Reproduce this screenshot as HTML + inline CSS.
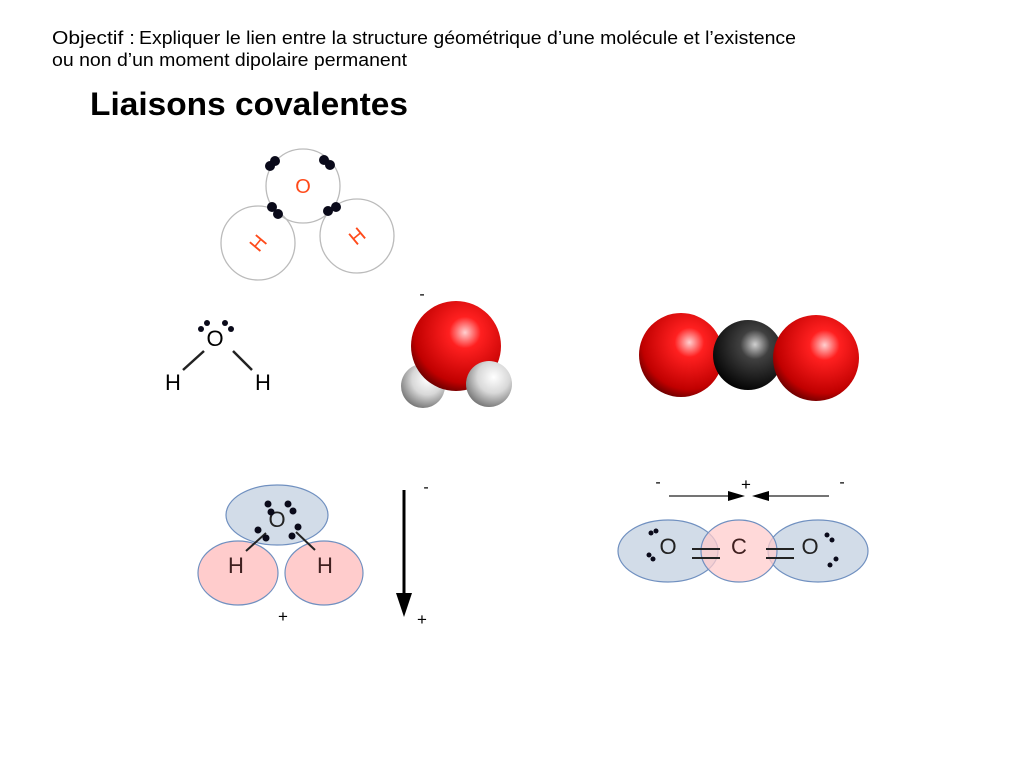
<!DOCTYPE html>
<html><head><meta charset="utf-8"><style>body{margin:0;background:#fff}svg{display:block}</style></head><body>
<svg width="1024" height="768" xmlns="http://www.w3.org/2000/svg" font-family="Liberation Sans, sans-serif">
<defs>
<radialGradient id="red" cx="0.6" cy="0.35" r="0.7"><stop offset="0" stop-color="#ffd0d0"/><stop offset="0.25" stop-color="#ff2020"/><stop offset="0.8" stop-color="#c00000"/><stop offset="1" stop-color="#600000"/></radialGradient>
<radialGradient id="wht" cx="0.6" cy="0.35" r="0.7"><stop offset="0" stop-color="#ffffff"/><stop offset="0.5" stop-color="#d8d8d8"/><stop offset="1" stop-color="#707070"/></radialGradient>
<radialGradient id="blk" cx="0.6" cy="0.35" r="0.7"><stop offset="0" stop-color="#d0d0d0"/><stop offset="0.3" stop-color="#404040"/><stop offset="1" stop-color="#000"/></radialGradient>
</defs>
<text x="52" y="44" font-size="18" textLength="83" lengthAdjust="spacingAndGlyphs">Objectif :</text>
<text x="139" y="44" font-size="18" textLength="657" lengthAdjust="spacingAndGlyphs">Expliquer le lien entre la structure géométrique d’une molécule et l’existence</text>
<text x="52" y="66" font-size="18" textLength="355" lengthAdjust="spacingAndGlyphs">ou non d’un moment dipolaire permanent</text>
<text x="90" y="115" font-size="32" font-weight="bold" textLength="318" lengthAdjust="spacingAndGlyphs">Liaisons covalentes</text>
<!-- top diagram -->
<g fill="none" stroke="#bbb" stroke-width="1.3">
<circle cx="258" cy="243" r="37" fill="#fff"/><circle cx="357" cy="236" r="37" fill="#fff"/><circle cx="303" cy="186" r="37"/></g>
<text x="303" y="193" font-size="20" fill="#ff4a1a" text-anchor="middle">O</text>
<text x="258" y="250" font-size="20" fill="#ff4a1a" text-anchor="middle" transform="rotate(-50 258 243)">H</text>
<text x="357" y="243" font-size="20" fill="#ff4a1a" text-anchor="middle" transform="rotate(-40 357 236)">H</text>
<g fill="#0a0a1a"><circle cx="270" cy="166" r="5"/><circle cx="275" cy="161" r="5"/><circle cx="324" cy="160" r="5"/><circle cx="330" cy="165" r="5"/><circle cx="272" cy="207" r="5"/><circle cx="278" cy="214" r="5"/><circle cx="328" cy="211" r="5"/><circle cx="336" cy="207" r="5"/></g>
<!-- lewis -->
<text x="215" y="346" font-size="22" text-anchor="middle">O</text>
<text x="173" y="390" font-size="22" text-anchor="middle">H</text>
<text x="263" y="390" font-size="22" text-anchor="middle">H</text>
<g stroke="#222" stroke-width="2.5"><line x1="204" y1="351" x2="183" y2="370"/><line x1="233" y1="351" x2="252" y2="370"/></g>
<g fill="#0a0a1a"><circle cx="201" cy="329" r="3"/><circle cx="207" cy="323" r="3"/><circle cx="225" cy="323" r="3"/><circle cx="231" cy="329" r="3"/></g>
<!-- water spheres -->
<text x="422" y="299" font-size="16" text-anchor="middle">-</text>
<circle cx="423" cy="386" r="22" fill="url(#wht)"/>
<circle cx="456" cy="346" r="45" fill="url(#red)"/>
<circle cx="489" cy="384" r="23" fill="url(#wht)"/>
<!-- CO2 spheres -->
<circle cx="681" cy="355" r="42" fill="url(#red)"/>
<circle cx="748" cy="355" r="35" fill="url(#blk)"/>
<circle cx="816" cy="358" r="43" fill="url(#red)"/>
<!-- bottom water -->
<g stroke="#7090c0" stroke-width="1.2">
<ellipse cx="238" cy="573" rx="40" ry="32" fill="#ffcccc"/>
<ellipse cx="324" cy="573" rx="39" ry="32" fill="#ffcccc"/>
<ellipse cx="277" cy="515" rx="51" ry="30" fill="#d2dce8"/></g>
<text x="277" y="527" font-size="22" text-anchor="middle" fill="#222">O</text>
<text x="236" y="573" font-size="22" text-anchor="middle" fill="#402020">H</text>
<text x="325" y="573" font-size="22" text-anchor="middle" fill="#402020">H</text>
<g stroke="#222" stroke-width="2"><line x1="266" y1="533" x2="246" y2="551"/><line x1="296" y1="532" x2="315" y2="550"/></g>
<g fill="#0a0a1a"><circle cx="268" cy="504" r="3.5"/><circle cx="271" cy="512" r="3.5"/><circle cx="288" cy="504" r="3.5"/><circle cx="293" cy="511" r="3.5"/><circle cx="258" cy="530" r="3.5"/><circle cx="266" cy="538" r="3.5"/><circle cx="298" cy="527" r="3.5"/><circle cx="292" cy="536" r="3.5"/></g>
<text x="283" y="622" font-size="17" text-anchor="middle">+</text>
<line x1="404" y1="490" x2="404" y2="595" stroke="#000" stroke-width="3"/>
<polygon points="396,593 412,593 404,617" fill="#000"/>
<text x="426" y="492" font-size="16" text-anchor="middle">-</text>
<text x="422" y="625" font-size="17" text-anchor="middle">+</text>
<!-- bottom CO2 -->
<g stroke="#7090c0" stroke-width="1.2">
<ellipse cx="668" cy="551" rx="50" ry="31" fill="#d2dce8"/>
<ellipse cx="818" cy="551" rx="50" ry="31" fill="#d2dce8"/>
<ellipse cx="739" cy="551" rx="38" ry="31" fill="#ffcccc" fill-opacity="0.75"/></g>
<text x="668" y="554" font-size="22" text-anchor="middle" fill="#222">O</text>
<text x="739" y="554" font-size="22" text-anchor="middle" fill="#402020">C</text>
<text x="810" y="554" font-size="22" text-anchor="middle" fill="#222">O</text>
<g stroke="#222" stroke-width="2"><line x1="692" y1="549" x2="720" y2="549"/><line x1="692" y1="558" x2="720" y2="558"/><line x1="766" y1="549" x2="794" y2="549"/><line x1="766" y1="558" x2="794" y2="558"/></g>
<g fill="#0a0a1a"><circle cx="651" cy="533" r="2.5"/><circle cx="656" cy="531" r="2.5"/><circle cx="649" cy="555" r="2.5"/><circle cx="653" cy="559" r="2.5"/><circle cx="827" cy="535" r="2.5"/><circle cx="832" cy="540" r="2.5"/><circle cx="836" cy="559" r="2.5"/><circle cx="830" cy="565" r="2.5"/></g>
<g stroke="#222" stroke-width="1.2"><line x1="669" y1="496" x2="730" y2="496"/><line x1="768" y1="496" x2="829" y2="496"/></g>
<polygon points="728,491 745,496 728,501" fill="#000"/>
<polygon points="769,491 752,496 769,501" fill="#000"/>
<text x="658" y="487" font-size="16" text-anchor="middle">-</text>
<text x="746" y="490" font-size="17" text-anchor="middle">+</text>
<text x="842" y="487" font-size="16" text-anchor="middle">-</text>
</svg>
</body></html>
